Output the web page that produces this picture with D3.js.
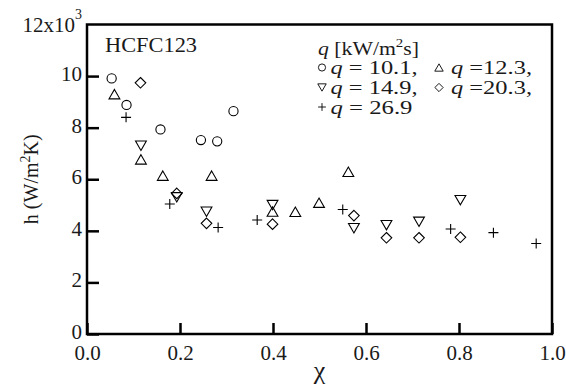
<!DOCTYPE html>
<html>
<head>
<meta charset="utf-8">
<script src="https://cdn.jsdelivr.net/npm/d3@7"></script>
<style>
  html, body { margin: 0; padding: 0; background: #fff; }
  svg { display: block; }
</style>
</head>
<body>
<svg id="chart" width="566" height="392"></svg>
<script>
// Heat transfer coefficient h vs. vapour quality χ, HCFC123, by heat flux q
const xTicks = [0.0, 0.2, 0.4, 0.6, 0.8, 1.0];
const yTicks = [0, 2, 4, 6, 8, 10];

const q101x = [0.053, 0.085, 0.158, 0.245, 0.280, 0.315];
const q101h = [9.91, 8.88, 7.93, 7.52, 7.47, 8.64];

const q123x = [0.059, 0.116, 0.163, 0.268, 0.399, 0.448, 0.499, 0.562];
const q123h = [9.30, 6.77, 6.14, 6.14, 4.75, 4.74, 5.09, 6.29];

const q149x = [0.116, 0.193, 0.257, 0.399, 0.574, 0.644, 0.714, 0.803];
const q149h = [7.30, 5.30, 4.74, 5.00, 4.10, 4.22, 4.35, 5.19];

const q203x = [0.115, 0.193, 0.257, 0.399, 0.574, 0.644, 0.714, 0.803];
const q203h = [9.74, 5.45, 4.29, 4.26, 4.59, 3.73, 3.73, 3.75];

const q269x = [0.084, 0.178, 0.282, 0.366, 0.550, 0.782, 0.874, 0.966];
const q269h = [8.40, 5.04, 4.13, 4.42, 4.83, 4.07, 3.93, 3.51];

const seriesNames = ["10.1", "12.3", "14.9", "20.3", "26.9"];
const seriesShapes = ["circle", "up", "down", "diamond", "plus"];

const series = [
  { name: seriesNames[0], shape: seriesShapes[0], x: q101x, h: q101h },
  { name: seriesNames[1], shape: seriesShapes[1], x: q123x, h: q123h },
  { name: seriesNames[2], shape: seriesShapes[2], x: q149x, h: q149h },
  { name: seriesNames[3], shape: seriesShapes[3], x: q203x, h: q203h },
  { name: seriesNames[4], shape: seriesShapes[4], x: q269x, h: q269h }
];

const FONT = "Liberation Serif";
const INK = "#1a1a1a";

const svg = d3.select("#chart");
const plotL = 87, plotR = 552, plotT = 24.5, plotB = 334;

const x = d3.scaleLinear().domain([0, 1]).range([plotL, plotR]);
const y = d3.scaleLinear().domain([0, 12]).range([plotB, plotT]);

// marker outlines, centred on (0,0)
function markerPath(shape, s) {
  const p = d3.path();
  if (shape === "circle") {
    p.moveTo(4.6 * s, 0);
    p.arc(0, 0, 4.6 * s, 0, 2 * Math.PI);
  } else if (shape === "up") {
    p.moveTo(0, -4.7 * s); p.lineTo(5.4 * s, 4.7 * s); p.lineTo(-5.4 * s, 4.7 * s); p.closePath();
  } else if (shape === "down") {
    p.moveTo(0, 4.7 * s); p.lineTo(5.4 * s, -4.7 * s); p.lineTo(-5.4 * s, -4.7 * s); p.closePath();
  } else if (shape === "diamond") {
    p.moveTo(0, -5.3 * s); p.lineTo(5.3 * s, 0); p.lineTo(0, 5.3 * s); p.lineTo(-5.3 * s, 0); p.closePath();
  } else if (shape === "plus") {
    p.moveTo(-5 * s, 0); p.lineTo(5 * s, 0); p.moveTo(0, -5 * s); p.lineTo(0, 5 * s);
  }
  return p.toString();
}

// axes with inward ticks
const xAxis = svg.append("g")
  .attr("transform", `translate(0,${plotB})`)
  .call(d3.axisBottom(x).tickValues(xTicks).tickSize(-11).tickFormat(d3.format(".1f")));
const yAxis = svg.append("g")
  .attr("transform", `translate(${plotL},0)`)
  .call(d3.axisLeft(y).tickValues(yTicks).tickSize(-12).tickFormat(d3.format("d")));

[xAxis, yAxis].forEach(g => {
  g.attr("font-family", FONT).attr("font-size", 21);
  g.select(".domain").remove();
  g.selectAll(".tick line").attr("stroke", "#000").attr("stroke-width", 2.5);
  g.selectAll(".tick text").attr("fill", INK);
});
xAxis.selectAll(".tick text").attr("y", 25.5).attr("dy", 0);
yAxis.selectAll(".tick text").attr("x", -5).attr("y", 4.5).attr("dy", 0);

// top y label with exponent
const topLabel = svg.append("text")
  .attr("x", 82).attr("y", 31.7)
  .attr("text-anchor", "end").attr("font-family", FONT)
  .attr("font-size", 21).attr("fill", INK);
topLabel.append("tspan").text("12x10");
topLabel.append("tspan").attr("dy", -13).attr("font-size", 14).text("3");

// frame
svg.append("rect")
  .attr("x", plotL).attr("y", plotT)
  .attr("width", plotR - plotL).attr("height", plotB - plotT)
  .attr("fill", "none").attr("stroke", "#000").attr("stroke-width", 2.5);

// data markers
series.forEach(s => {
  svg.append("g").selectAll("path")
    .data(s.x.map((v, i) => [v, s.h[i]]))
    .join("path")
    .attr("transform", d => `translate(${x(d[0])},${y(d[1])})`)
    .attr("d", markerPath(s.shape, 1))
    .attr("fill", "none")
    .attr("stroke", "#000")
    .attr("stroke-width", 1.1);
});

// fluid name
svg.append("text")
  .attr("x", 105).attr("y", 51.7).attr("font-family", FONT)
  .attr("font-size", 21).attr("fill", INK)
  .attr("textLength", 92).attr("lengthAdjust", "spacingAndGlyphs")
  .text("HCFC123");

// legend
const legTitle = svg.append("text").attr("x", 318).attr("y", 55)
  .attr("font-family", FONT).attr("font-size", 19).attr("fill", INK)
  .attr("textLength", 101).attr("lengthAdjust", "spacingAndGlyphs");
legTitle.append("tspan").attr("font-style", "italic").text("q");
legTitle.append("tspan").text(" [kW/m");
legTitle.append("tspan").attr("dy", -8).attr("font-size", 13).text("2");
legTitle.append("tspan").attr("dy", 8).text("s]");

const legendItems = [
  { s: 0, col: 0, row: 0, eq: " = ", tail: ",", w: 87 },
  { s: 1, col: 1, row: 0, eq: " =", tail: ",", w: 81 },
  { s: 2, col: 0, row: 1, eq: " = ", tail: ",", w: 87 },
  { s: 3, col: 1, row: 1, eq: " =", tail: ",", w: 81 },
  { s: 4, col: 0, row: 2, eq: " = ", tail: "", w: 82 }
];
const colMarkX = [322, 439];
const colTextX = [330.5, 451];
const rowBase = [74, 94, 113.5];

legendItems.forEach(it => {
  const s = series[it.s];
  svg.append("path")
    .attr("transform", `translate(${colMarkX[it.col]},${rowBase[it.row] - 6.5})`)
    .attr("d", markerPath(s.shape, 0.78))
    .attr("fill", "none").attr("stroke", "#000").attr("stroke-width", 0.9);
  const t = svg.append("text").attr("x", colTextX[it.col]).attr("y", rowBase[it.row])
    .attr("font-family", FONT).attr("font-size", 19).attr("fill", INK)
    .attr("xml:space", "preserve")
    .attr("textLength", it.w).attr("lengthAdjust", "spacingAndGlyphs");
  t.append("tspan").attr("font-style", "italic").text("q");
  t.append("tspan").text(it.eq + s.name + it.tail);
});

// axis titles
const yTitle = svg.append("text")
  .attr("transform", `translate(38,${(plotT + plotB) / 2}) rotate(-90)`)
  .attr("text-anchor", "middle").attr("font-family", FONT)
  .attr("font-size", 20).attr("fill", INK);
yTitle.append("tspan").text("h (W/m");
yTitle.append("tspan").attr("dy", -8.5).attr("font-size", 14).text("2");
yTitle.append("tspan").attr("dy", 8.5).text("K)");

svg.append("text")
  .attr("x", (plotL + plotR) / 2).attr("y", 379)
  .attr("text-anchor", "middle").attr("font-family", FONT)
  .attr("font-size", 26).attr("fill", INK)
  .text("χ");
</script>
</body>
</html>
